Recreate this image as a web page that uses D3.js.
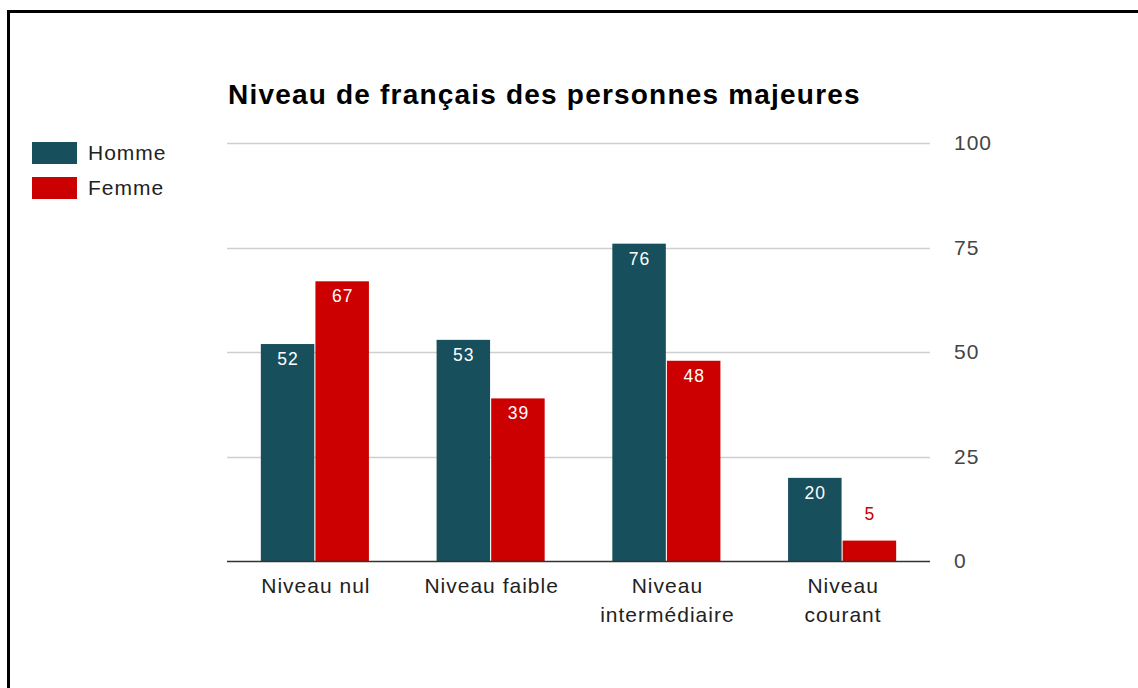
<!DOCTYPE html>
<html>
<head>
<meta charset="utf-8">
<script src="https://cdn.jsdelivr.net/npm/d3@7"></script>
<style>
  html, body { margin: 0; padding: 0; background: #fff; overflow: hidden; }
  svg { display: block; font-family: "Liberation Sans", Arial, sans-serif; }
</style>
</head>
<body>
<svg id="chart" width="1138" height="688"></svg>
<script>
const title = "Niveau de français des personnes majeures";
const categories = ["Niveau nul", "Niveau faible", "Niveau\nintermédiaire", "Niveau\ncourant"];
const seriesNames = ["Homme", "Femme"];
const homme = [52, 53, 76, 20];
const femme = [67, 39, 48, 5];
const yTicks = [0, 25, 50, 75, 100];
const colors = ["#174f5d", "#cc0000"];

const svg = d3.select("#chart");

// frame
svg.append("rect").attr("x", 8.5).attr("y", 11.5).attr("width", 1300).attr("height", 900)
  .attr("fill", "none").attr("stroke", "#000").attr("stroke-width", 3);

const x0 = d3.scaleBand().domain(categories).range([227, 930]).paddingInner(0.385).paddingOuter(0.1925);
const x1 = d3.scaleBand().domain(seriesNames).range([0, x0.bandwidth()]).paddingInner(0.02);
const y = d3.scaleLinear().domain([0, 100]).range([561.5, 143.3]);

// gridlines
svg.append("g").selectAll("line").data(yTicks.filter(d => d !== 0)).join("line")
  .attr("x1", 227).attr("x2", 930)
  .attr("y1", d => Math.round(y(d)) + 0.5).attr("y2", d => Math.round(y(d)) + 0.5)
  .attr("stroke", "#cfcfcf").attr("stroke-width", 1.3);

// right axis labels
const yAxis = d3.axisRight(y).tickValues(yTicks).tickSize(0).tickPadding(24);
const ya = svg.append("g").attr("transform", "translate(930,-0.5)").call(yAxis);
ya.select(".domain").remove();
ya.selectAll("text").attr("font-size", 21).attr("fill", "#444")
  .style("letter-spacing", "1px").attr("font-family", "Liberation Sans, Arial, sans-serif");

// bars
const data = categories.map((c, i) => ({ cat: c, vals: [homme[i], femme[i]] }));
const groups = svg.append("g").selectAll("g").data(data).join("g")
  .attr("transform", d => `translate(${x0(d.cat)},0)`);

groups.selectAll("rect").data(d => d.vals.map((v, j) => ({ v, s: seriesNames[j], j }))).join("rect")
  .attr("x", d => x1(d.s)).attr("width", x1.bandwidth())
  .attr("y", d => y(d.v)).attr("height", d => y(0) - y(d.v))
  .attr("fill", d => colors[d.j]);

groups.selectAll("text.val").data(d => d.vals.map((v, j) => ({ v, s: seriesNames[j], j }))).join("text")
  .attr("class", "val")
  .attr("x", d => x1(d.s) + x1.bandwidth() / 2 + 0.5)
  .attr("y", d => (y(0) - y(d.v) > 30) ? y(d.v) + 21 : y(d.v) - 21)
  .attr("text-anchor", "middle")
  .attr("font-size", 17.5)
  .style("letter-spacing", "1px")
  .attr("fill", d => (y(0) - y(d.v) > 30) ? "#ffffff" : colors[d.j])
  .text(d => d.v);

// baseline
svg.append("line").attr("x1", 227).attr("x2", 930).attr("y1", y(0)).attr("y2", y(0))
  .attr("stroke", "#333").attr("stroke-width", 1.6);

// category labels
const xa = svg.append("g");
categories.forEach(c => {
  const t = xa.append("text")
    .attr("x", x0(c) + x0.bandwidth() / 2 + 1)
    .attr("y", 593)
    .attr("text-anchor", "middle")
    .attr("font-size", 21)
    .attr("fill", "#222")
    .style("letter-spacing", "1px");
  c.split("\n").forEach((line, k) => {
    t.append("tspan").attr("x", x0(c) + x0.bandwidth() / 2 + 1).attr("dy", k === 0 ? 0 : 28.5).text(line);
  });
});

// title
svg.append("text").attr("x", 228).attr("y", 104)
  .attr("font-size", 28).attr("font-weight", "bold").attr("fill", "#000")
  .style("letter-spacing", "1.2px")
  .text(title);

// legend
const leg = svg.append("g").selectAll("g").data(seriesNames).join("g")
  .attr("transform", (d, i) => `translate(32,${142 + i * 35})`);
leg.append("rect").attr("width", 45).attr("height", 22).attr("fill", (d, i) => colors[i]);
leg.append("text").attr("x", 56).attr("y", 18).attr("font-size", 21).attr("fill", "#222")
  .style("letter-spacing", "1px").text(d => d);
</script>
</body>
</html>
